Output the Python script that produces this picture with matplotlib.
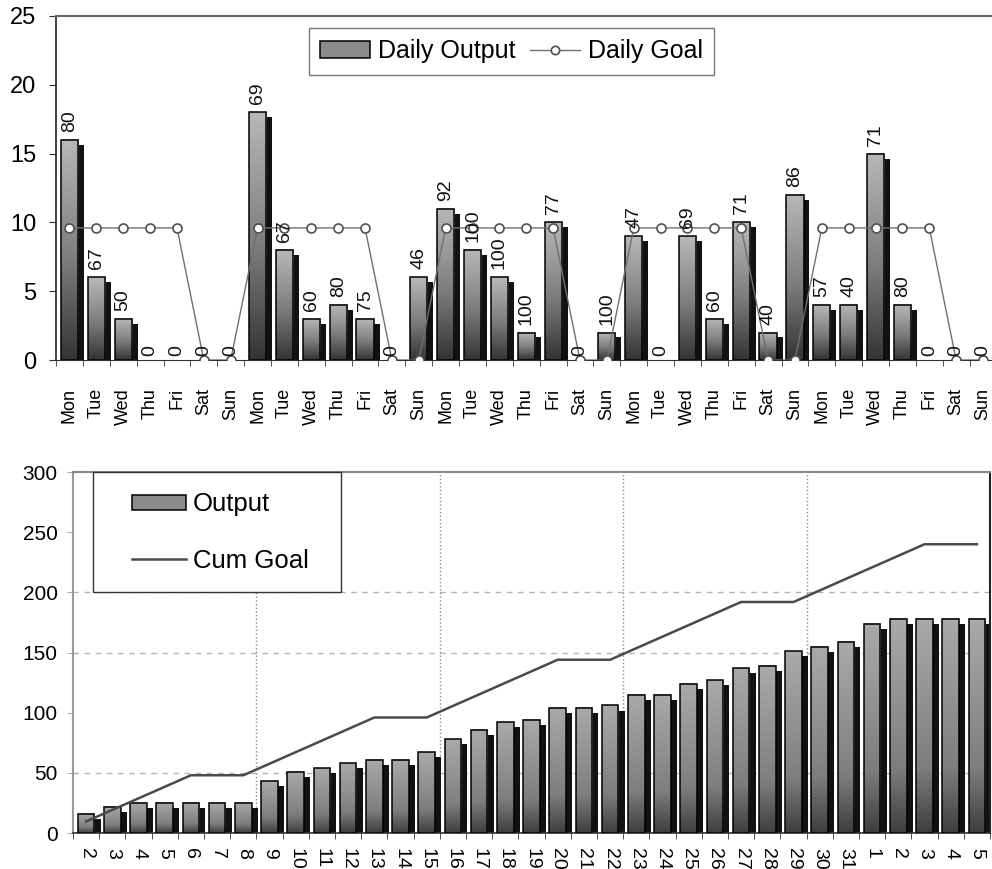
import numpy as np
import matplotlib
matplotlib.use('Agg')
import matplotlib.pyplot as plt
from matplotlib.colors import LinearSegmentedColormap
from matplotlib.patches import Patch, Rectangle
from matplotlib.lines import Line2D

plt.rcParams['font.family'] = ['Liberation Sans', 'DejaVu Sans']

# daily chart: five weeks, Mon..Sun
week = ['Mon', 'Tue', 'Wed', 'Thu', 'Fri', 'Sat', 'Sun']
day_labels = week * 5
daily_output = [16, 6, 3, 0, 0, 0, 0,
                18, 8, 3, 4, 3, 0, 6,
                11, 8, 6, 2, 10, 0, 2,
                9, 0, 9, 3, 10, 2, 12,
                4, 4, 15, 4, 0, 0, 0]
daily_pct = [80, 67, 50, 0, 0, 0, 0,
             69, 67, 60, 80, 75, 0, 46,
             92, 100, 100, 100, 77, 0, 100,
             47, 0, 69, 60, 71, 40, 86,
             57, 40, 71, 80, 0, 0, 0]
daily_goal = [9.6, 9.6, 9.6, 9.6, 9.6, 0, 0,
              9.6, 9.6, 9.6, 9.6, 9.6, 0, 0,
              9.6, 9.6, 9.6, 9.6, 9.6, 0, 0,
              9.6, 9.6, 9.6, 9.6, 9.6, 0, 0,
              9.6, 9.6, 9.6, 9.6, 9.6, 0, 0]

# cumulative chart: day of month
date_labels = ['2', '3', '4', '5', '6', '7', '8', '9', '10', '11', '12', '13',
               '14', '15', '16', '17', '18', '19', '20', '21', '22', '23', '24',
               '25', '26', '27', '28', '29', '30', '31', '1', '2', '3', '4', '5']
cum_output = [16, 22, 25, 25, 25, 25, 25, 43, 51, 54, 58, 61, 61, 67, 78, 86,
              92, 94, 104, 104, 106, 115, 115, 124, 127, 137, 139, 151, 155,
              159, 174, 178, 178, 178, 178]
cum_goal = [9.6, 19.2, 28.8, 38.4, 48, 48, 48, 57.6, 67.2, 76.8, 86.4, 96, 96,
            96, 105.6, 115.2, 124.8, 134.4, 144, 144, 144, 153.6, 163.2, 172.8,
            182.4, 192, 192, 192, 201.6, 211.2, 220.8, 230.4, 240, 240, 240]

shade_top = LinearSegmentedColormap.from_list(
    'shade_top', [(0, '#343434'), (0.45, '#7c7c7c'), (1, '#b8b8b8')])
shade_cum = LinearSegmentedColormap.from_list(
    'shade_cum', [(0, '#3e3e3e'), (0.3, '#7e7e7e'), (1, '#aaaaaa')])


def shaded_bars(ax, values, cmap, width=0.64, dx=0.22, dy=0.0):
    # front face with a vertical gradient, black drop shadow behind it
    for xi, v in enumerate(values):
        if v <= 0:
            continue
        if v > dy:
            ax.bar(xi + dx, v - dy, width, color='#111111', zorder=2)
        ax.imshow(np.linspace(1, 0, 128)[:, None], cmap=cmap, vmin=0, vmax=1,
                  aspect='auto', interpolation='bilinear',
                  extent=(xi - width / 2, xi + width / 2, 0, v), zorder=3)
        ax.bar(xi, v, width, facecolor='none', edgecolor='black',
               linewidth=1.1, zorder=4)


fig = plt.figure(figsize=(9.92, 8.69), dpi=100)

# ---- top: daily output vs goal ----
ax1 = fig.add_axes([0.0565, 0.5857, 0.948, 0.3959])
x = np.arange(len(daily_output))
shaded_bars(ax1, daily_output, shade_top, dy=0.36)
ax1.plot(x, daily_goal, color='#707070', lw=1, marker='o', ms=6.5,
         mfc='white', mec='#505050', mew=1.2, zorder=6)
for xi, v, p in zip(x, daily_output, daily_pct):
    ax1.annotate(str(p), (xi, v), xytext=(0, 8 if v > 0 else 4),
                 textcoords='offset pixels', rotation=90, ha='center',
                 va='bottom', fontsize=14, color='#111111', zorder=7)

ax1.set_xlim(-0.5, len(x) - 0.5)
ax1.set_ylim(0, 25)
ax1.set_yticks(range(0, 26, 5))
ax1.tick_params(axis='y', labelsize=17, length=5, pad=9, color='#333333')
ax1.set_xticks(x)
ax1.set_xticklabels(day_labels, rotation=90, fontsize=13)
ax1.tick_params(axis='x', which='major', length=0, pad=20)
ax1.set_xticks(np.arange(-0.5, len(x), 1), minor=True)
ax1.tick_params(axis='x', which='minor', length=4.5, color='#333333')
ax1.spines['right'].set_visible(False)
ax1.spines['top'].set_color('#666666')
ax1.spines['top'].set_linewidth(1.5)
ax1.spines['left'].set_color('#222222')
ax1.spines['left'].set_linewidth(1.2)
ax1.spines['bottom'].set_color('#333333')

leg1 = ax1.legend([Patch(facecolor='#8a8a8a', edgecolor='black', linewidth=1.1),
                   Line2D([], [], color='#707070', lw=1, marker='o', ms=6,
                          mfc='white', mec='#505050', mew=1.2)],
                  ['Daily Output', 'Daily Goal'],
                  loc='upper left', bbox_to_anchor=(309 / 992, 1 - 28 / 869),
                  bbox_transform=fig.transFigure, ncol=2, fontsize=18,
                  fancybox=False, framealpha=1, edgecolor='#777777',
                  handletextpad=0.3, columnspacing=0.6, borderpad=0.45,
                  borderaxespad=0, handlelength=2.0)
leg1.get_frame().set_linewidth(1)
leg1.set_zorder(8)

# ---- bottom: cumulative output vs cumulative goal ----
ax2 = fig.add_axes([0.0736, 0.0414, 0.9244, 0.4154])
x2 = np.arange(len(cum_output))
for level in (50, 150, 200):
    ax2.axhline(level, color='#b4b4b4', lw=1, ls=(0, (4, 4)), zorder=1)
for b in np.arange(6.5, len(x2) - 1, 7):
    ax2.axvline(b, color='#8a8a8a', lw=1, ls=':', zorder=1)
shaded_bars(ax2, cum_output, shade_cum, dx=0.23, dy=4.2)
ax2.plot(x2, cum_goal, color='#4a4a4a', lw=1.8, zorder=5)

ax2.set_xlim(-0.5, len(x2) - 0.5)
ax2.set_ylim(0, 300)
ax2.set_yticks(range(0, 301, 50))
ax2.tick_params(axis='y', labelsize=15, length=4, pad=7, color='#aaaaaa')
ax2.set_xticks(x2)
ax2.set_xticklabels(date_labels, rotation=-90, fontsize=14)
ax2.tick_params(axis='x', which='major', length=0, pad=11)
ax2.set_xticks(np.arange(-0.5, len(x2), 1), minor=True)
ax2.tick_params(axis='x', which='minor', length=4.5, color='#333333')
ax2.spines['left'].set_color('#999999')
ax2.spines['left'].set_linewidth(1.5)
ax2.spines['top'].set_color('#888888')
ax2.spines['top'].set_linewidth(1.5)
ax2.spines['right'].set_color('#222222')
ax2.spines['right'].set_linewidth(1.5)
ax2.spines['bottom'].set_color('#333333')
ax2.spines['bottom'].set_linewidth(1.2)

ax2.add_patch(Rectangle((0.0218, 0.6676), 0.2704, 0.3324, transform=ax2.transAxes,
                        facecolor='white', edgecolor='#333333', lw=1,
                        clip_on=False, zorder=5.5))
leg2 = ax2.legend([Patch(facecolor='#8a8a8a', edgecolor='black', linewidth=1.1),
                   Line2D([], [], color='#4a4a4a', lw=1.8)],
                  ['Output', 'Cum Goal'],
                  loc='upper left', bbox_to_anchor=(0.0534, 0.972),
                  frameon=False, fontsize=18.5, labelspacing=1.25,
                  handlelength=2.1, handleheight=0.55, handletextpad=0.25,
                  borderaxespad=0)
leg2.set_zorder(6)

fig.savefig('out.png', dpi=100)
